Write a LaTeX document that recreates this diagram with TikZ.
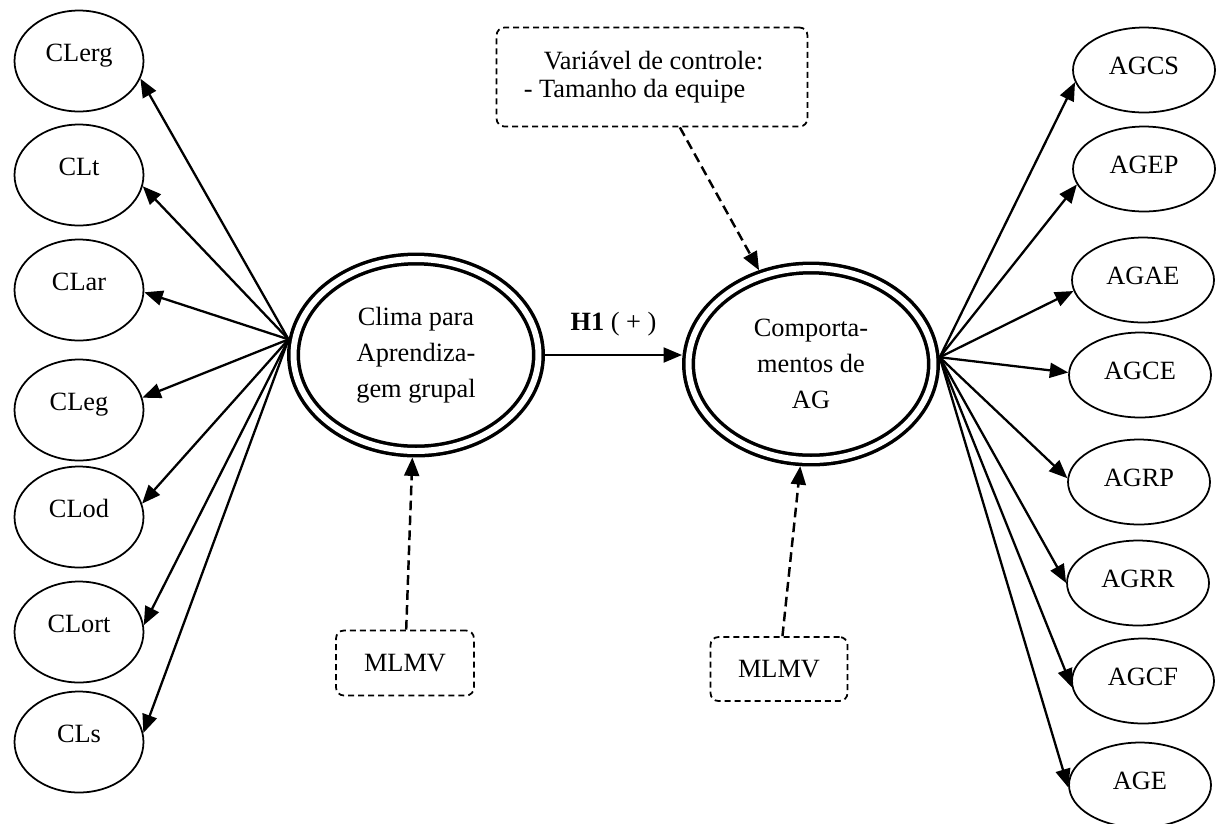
\documentclass[tikz,border=0pt]{standalone}
\usepackage{fontspec}
\setmainfont{Liberation Serif}
\usetikzlibrary{shapes.geometric,arrows.meta}
\begin{document}
\begin{tikzpicture}[x=0.02cm,y=-0.02cm,font=\fontsize{15}{18}\selectfont,
	dim/.style={ellipse,draw,line width=1pt,minimum width=2.58cm,minimum height=2.02cm,inner sep=0pt,text height=8pt,text depth=7pt},
	ind/.style={ellipse,draw,line width=1pt,minimum width=2.84cm,minimum height=1.7cm,inner sep=0pt,text height=10pt,text depth=4.6pt},
	latente/.style={ellipse,draw,line width=2pt,double,double distance=3.4pt,minimum width=4.9cm,minimum height=3.84cm,outer sep=3.7pt,align=center,font=\fontsize{15}{20.5}\selectfont},
	caixa/.style={draw,line width=1pt,dash pattern=on 3.4pt off 2.3pt,rounded corners=4.5pt},
	seta/.style={line width=1.3pt,-{Triangle[length=10.5pt,width=8.5pt]}},
	tracejada/.style={seta,line width=1.4pt,dash pattern=on 5.5pt off 3pt}]
		\useasboundingbox (0,0) rectangle (1217,823);
		\node[latente] (clima) at (416,355) {Clima para\\Aprendiza-\\gem grupal};
		\node[latente] (comp) at (811,364) {Comporta-\\mentos de\\AG};
		\draw[seta] (clima.east) -- (clima.east -| comp.west) node[midway,above=7pt] (h1) {\textbf{H1} ( + )};
		\foreach \nome/\y/\ang in {CLerg/61/-16,CLt/175/-10,CLar/290/-2,CLeg/410/11,CLod/517/12,CLort/632/6,CLs/742/8}
		{
			\node[dim] (\nome) at (79,\y) {\nome};
			\draw[seta] (clima.173) -- (\nome.\ang);
		}
		\foreach \nome/\x/\y/\ang in {AGCS/1144/70/190,AGEP/1144/169/193,AGAE/1143/280/189,AGCE/1140/375/178,AGRP/1139/482/177,AGRR/1138/583/180,AGCF/1143/681/185,AGE/1140/785/182}
		{
			\node[ind] (\nome) at (\x,\y) {\nome};
			\draw[seta] (comp.3) -- (\nome.\ang);
		}
		\node[caixa,minimum width=6.22cm,minimum height=1.98cm,align=left,font=\fontsize{15}{16}\selectfont] (controle) at (652,77) {\hspace*{0.4cm}Variável de controle:\\- Tamanho da equipe\hspace*{0.7cm}};
		\node[caixa,minimum width=2.76cm,minimum height=1.3cm] (mlmv1) at (405,663) {MLMV};
		\node[caixa,minimum width=2.74cm,minimum height=1.28cm] (mlmv2) at (779,669) {MLMV};
		\draw[tracejada] (controle) -- (comp);
		\draw[tracejada] (mlmv1) -- (clima);
		\draw[tracejada] (mlmv2) -- (comp);
\end{tikzpicture}
\end{document}
